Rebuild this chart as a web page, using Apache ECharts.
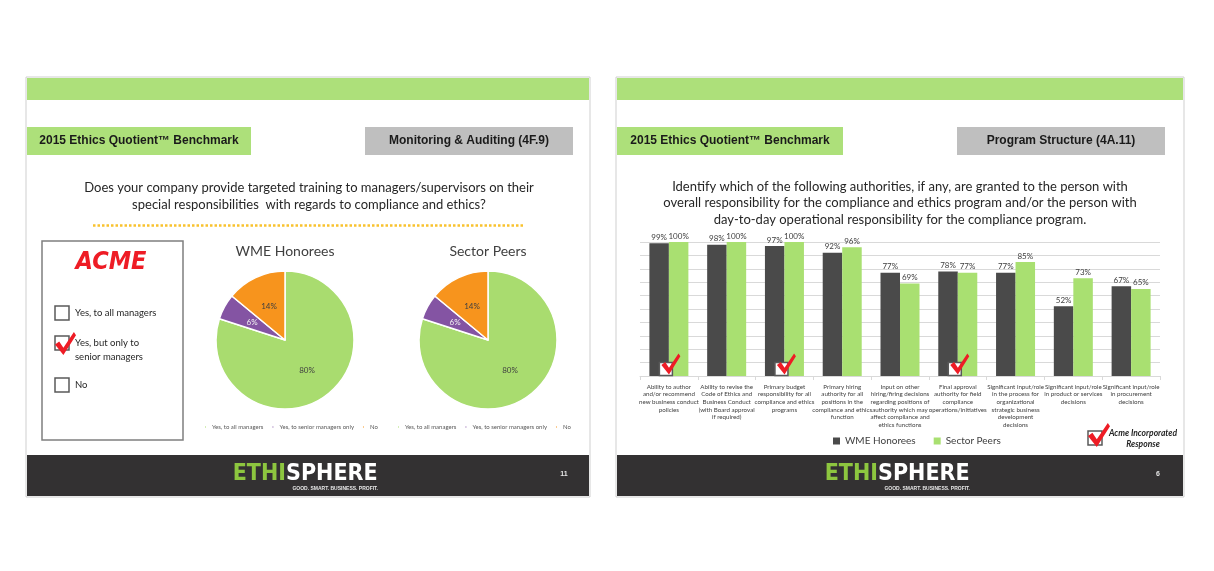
<!DOCTYPE html>
<html><head><meta charset="utf-8">
<script src="https://cdn.jsdelivr.net/npm/echarts@6/dist/echarts.min.js"></script>
<style>html,body{margin:0;padding:0;background:#fff}#c{width:1214px;height:571px}</style>
</head><body><div id="c"></div>
<script>
// ---------- DATA ----------
const pieNames = ['Yes, to all managers', 'Yes, to senior managers only', 'No'];
const wmePie = [80, 6, 14];
const peersPie = [80, 6, 14];
const pieTitles = ['WME Honorees', 'Sector Peers'];
const acmeOptions = ['Yes, to all managers', 'Yes, but only to\nsenior managers', 'No'];
const acmeChoice = [0, 1, 0];

const categories = [
  'Ability to author\nand/or recommend\nnew business conduct\npolicies',
  'Ability to revise the\nCode of Ethics and\nBusiness Conduct\n(with Board approval\nif required)',
  'Primary budget\nresponsibility for all\ncompliance and ethics\nprograms',
  'Primary hiring\nauthority for all\npositions in the\ncompliance and ethics\nfunction',
  'Input on other\nhiring/firing decisions\nregarding positions of\nauthority which may\naffect compliance and\nethics functions',
  'Final approval\nauthority for field\ncompliance\noperations/initiatives',
  'Significant input/role\nin the process for\norganizational\nstrategic business\ndevelopment\ndecisions',
  'Significant input/role\nin product or services\ndecisions',
  'Significant input/role\nin procurement\ndecisions'
];
const wmeHonorees = [99, 98, 97, 92, 77, 78, 77, 52, 67];
const sectorPeers = [100, 100, 100, 96, 69, 77, 85, 73, 65];
const acmeResponse = [1, 0, 1, 0, 0, 1, 0, 0, 0];

// ---------- STYLE ----------
const GREEN = '#ade07a', GRAY = '#bfbfbf', DARK = '#333132', TXT = '#262626';
const pieColors = ['#a9dc6f', '#8454a3', '#f7941d'];
const CHECK_PTS = [[0, 12], [4, 9], [8, 15], [18, 0], [20, 3], [8, 22]];
const CHECK = 'M' + CHECK_PTS.map(p => p.join(',')).join(' L') + ' Z';
const FONT = 'Lato, "Liberation Sans", sans-serif';
const NARROW = '"Liberation Sans Narrow", "DejaVu Sans Condensed", "Liberation Sans", sans-serif';

const g = [];
function rect(x, y, w, h, style, z) { g.push({ type: 'rect', z: z || 0, shape: { x, y, width: w, height: h }, style }); }
function text(x, y, t, font, fill, align, extra) {
  g.push({ type: 'text', z: 3, x, y, style: Object.assign({ text: t, font, fill: fill || TXT, textAlign: align || 'center', textVerticalAlign: 'middle' }, extra || {}) });
}
function check(x, y, w, h) {
  g.push({ type: 'polygon', z: 6, shape: { points: CHECK_PTS.map(p => [x + p[0] * w / 20, y + p[1] * h / 22]) }, style: { fill: '#ee1c25' } });
}

function slide(x0, x1, grayX, grayW, greenW, sectionTitle, pageNo) {
  const w = x1 - x0, cx = (x0 + x1) / 2;
  rect(x0, 77, w, 420, { fill: '#fff', stroke: '#cfcfcf', lineWidth: 1 }, -1);
  rect(x0 + 1, 78, w - 2, 22, { fill: GREEN });
  rect(x0 + 1, 127, greenW, 28, { fill: GREEN });
  text(x0 + 1 + greenW / 2, 141, '2015 Ethics Quotient™ Benchmark', 'bold 12px "Liberation Sans", Arial, sans-serif', '#1a1a1a');
  rect(grayX, 127, grayW, 28, { fill: GRAY });
  text(grayX + grayW / 2, 141, sectionTitle, 'bold 12px "Liberation Sans", Arial, sans-serif', '#1a1a1a');
  rect(x0 + 1, 455, w - 2, 41, { fill: DARK });
  text(cx - 22, 474, 'ETHI', 'bold 23px ' + NARROW, '#8dc63f', 'right');
  text(cx - 22, 474, 'SPHERE', 'bold 23px ' + NARROW, '#ffffff', 'left');
  text(cx + 70, 489, 'GOOD. SMART. BUSINESS. PROFIT.', 'bold 5px "Liberation Sans", sans-serif', '#e6e6e6', 'right');
  text(x1 - 26, 474, pageNo, 'bold 7px "Liberation Sans", sans-serif', '#e6e6e6');
}

slide(26, 590, 365, 208, 224, 'Monitoring & Auditing (4F.9)', '11');
slide(616, 1184, 957, 208, 226, 'Program Structure (4A.11)', '6');

// slide 1 question
text(309, 196, 'Does your company provide targeted training to managers/supervisors on their\nspecial responsibilities  with regards to compliance and ethics?', '13px ' + FONT, TXT, 'center', { lineHeight: 17 });
g.push({ type: 'line', z: 2, shape: { x1: 93, y1: 225.5, x2: 523, y2: 225.5 }, style: { stroke: '#f9c22e', lineWidth: 2.5, lineDash: [2.5, 2] } });

// ACME box
rect(42, 241, 141, 199, { fill: '#fff', stroke: '#7f7f7f', lineWidth: 1.5 }, 1);
text(111, 262, 'ACME', 'italic bold 25px ' + NARROW, '#ee1c25');
const boxY = [306, 336, 378];
acmeOptions.forEach((o, i) => {
  rect(55, boxY[i], 14, 14, { fill: '#fff', stroke: '#595959', lineWidth: 1.5 }, 2);
  text(75, boxY[i] + 7 + (o.includes('\n') ? 7 : 0), o, '9.5px ' + FONT, TXT, 'left', { lineHeight: 14 });
  if (acmeChoice[i]) check(55, boxY[i] - 4, 21, 23);
});

// pie titles
[285, 488].forEach((x, i) => text(x, 251, pieTitles[i], '14px ' + FONT, '#404040'));

// slide 2 question
text(900, 203, 'Identify which of the following authorities, if any, are granted to the person with\noverall responsibility for the compliance and ethics program and/or the person with\nday-to-day operational responsibility for the compliance program.', '13px ' + FONT, TXT, 'center', { lineHeight: 16.5 });

// Acme Incorporated Response key
rect(1088, 431, 14, 14, { fill: '#fff', stroke: '#595959', lineWidth: 1.5 }, 2);
check(1088, 423, 22, 24);
text(1143, 433, 'Acme Incorporated', 'italic bold 8.5px ' + FONT, TXT);
text(1143, 444, 'Response', 'italic bold 8.5px ' + FONT, TXT);

function pieSeries(vals, cx) {
  return {
    type: 'pie', center: [cx, 340], radius: 69, startAngle: 90, clockwise: true,
    silent: true, z: 3,
    data: pieNames.map((n, i) => ({
      name: n, value: vals[i],
      itemStyle: { color: pieColors[i] },
      label: { color: i === 1 ? '#f2f2f2' : '#404040' }
    })),
    itemStyle: { borderColor: '#fff', borderWidth: 1.5 },
    label: { show: true, position: 'inside', formatter: '{c}%', fontSize: 8, fontFamily: FONT },
    labelLine: { show: false },
    emphasis: { disabled: true }
  };
}

const pieLegend = (left) => ({ data: pieNames, left, top: 424, padding: 0, icon: 'rect', itemWidth: 3, itemHeight: 3, itemGap: 7, selectedMode: false, textStyle: { fontSize: 6, color: '#595959', fontFamily: FONT } });

const chart = echarts.init(document.getElementById('c'), null, { renderer: 'canvas' });
chart.setOption({
  animation: false,
  backgroundColor: '#fff',
  graphic: { elements: g },
  legend: [
    pieLegend(203),
    pieLegend(396),
    { data: ['WME Honorees', 'Sector Peers'], left: 833, top: 436, padding: 0, icon: 'rect', itemWidth: 7, itemHeight: 7, itemGap: 18, selectedMode: false, textStyle: { fontSize: 10, color: '#404040', fontFamily: FONT } }
  ],
  grid: { left: 640, right: 54, top: 242, bottom: 195, outerBoundsMode: 'none', containLabel: false },
  xAxis: {
    type: 'category', data: categories,
    axisLine: { lineStyle: { color: '#d9d9d9' } },
    axisTick: { show: true, length: 4, lineStyle: { color: '#d9d9d9' } },
    axisLabel: { interval: 0, fontSize: 6.2, lineHeight: 7.6, color: '#404040', margin: 7, fontFamily: FONT }
  },
  yAxis: {
    type: 'value', min: 0, max: 100, interval: 10,
    axisLabel: { show: false }, axisLine: { show: false }, axisTick: { show: false },
    splitLine: { lineStyle: { color: '#d9d9d9' } }
  },
  series: [
    pieSeries(wmePie, 285),
    pieSeries(peersPie, 488),
    {
      name: 'WME Honorees', type: 'bar', data: wmeHonorees, barWidth: 19.5, barGap: '0%',
      itemStyle: { color: '#4a4a4a' }, silent: true,
      label: { show: true, position: 'top', distance: 2, formatter: '{c}%', fontSize: 8, color: '#404040', fontFamily: FONT }
    },
    {
      name: 'Sector Peers', type: 'bar', data: sectorPeers, barWidth: 19.5,
      itemStyle: { color: '#a9e071' }, silent: true,
      label: { show: true, position: 'top', distance: 2, formatter: '{c}%', fontSize: 8, color: '#404040', fontFamily: FONT }
    },
    {
      type: 'scatter', z: 5, silent: true, clip: false,
      data: acmeResponse.map((v, i) => v ? [i, 0] : null).filter(Boolean),
      symbol: 'rect', symbolSize: [13, 13], symbolOffset: [-3, -7],
      itemStyle: { color: '#fff', borderColor: '#595959', borderWidth: 1.5, opacity: 1 }
    },
    {
      type: 'scatter', z: 6, silent: true, clip: false,
      data: acmeResponse.map((v, i) => v ? [i, 0] : null).filter(Boolean),
      symbol: 'path://' + CHECK, symbolSize: [19, 21], symbolOffset: [2, -12], symbolKeepAspect: false,
      itemStyle: { color: '#ee1c25', opacity: 1 }
    }
  ]
});
</script>
</body></html>
